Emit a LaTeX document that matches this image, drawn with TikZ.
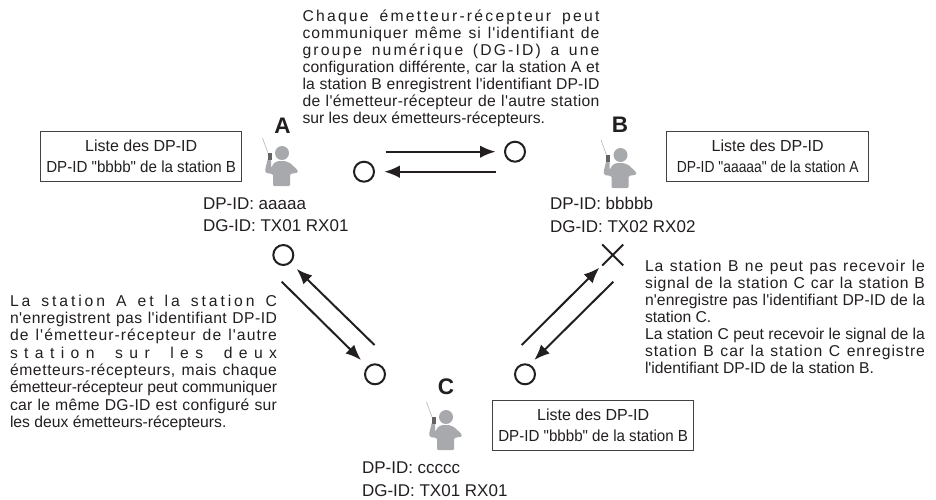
\documentclass[tikz,border=0pt]{standalone}
\usepackage{fontspec}
\usepackage{graphicx}
\setmainfont{Liberation Sans}[Ligatures=TeXOff]
\usetikzlibrary{arrows.meta,shapes.misc}
\newlength\jlnatural
\ExplSyntaxOn
\cs_new:Npn \charcount #1 {\str_count:n{#1}}
\ExplSyntaxOff
% one justified line: width in pt, text; the slack goes into letter spacing
\newcommand{\jl}[2]{%
  \settowidth\jlnatural{#2}%
  \edef\jlcount{\charcount{#2}}%
  \pgfmathsetmacro\jlspace{(#1-\jlnatural)/\jlcount/15.7*100*0.97}%
  \makebox[#1pt][s]{\addfontfeature{LetterSpace=\jlspace}#2}\\}
\definecolor{ink}{HTML}{231F20}
\definecolor{persongray}{HTML}{A7A9AC}
\tikzset{
  x=1pt,y=-1pt,
  every node/.style={text=ink,font=\fontsize{15.7}{17}\selectfont,inner sep=0pt,outer sep=0pt},
  para/.style={anchor=north west,align=left},
  okmark/.style={circle,draw=ink,line width=2pt,minimum size=20pt},
  nomark/.style={cross out,draw=ink,line width=2pt,minimum size=21pt},
  listbox/.style={draw=ink!85,line width=1pt,align=center,anchor=north west,font=\fontsize{16}{21}\selectfont},
  idlabel/.style={anchor=north west,align=left,font=\fontsize{17}{22.7}\selectfont},
  stationname/.style={font=\fontsize{22.5}{22.5}\selectfont\bfseries},
  link/.style={draw=ink,line width=2pt,-{Latex[length=15.5pt,width=12.5pt]}},
  person/.pic={
    \fill[persongray] (0,0) circle (7);
    \fill[persongray,rounded corners=1.2pt] (-9,33) -- (8,33) -- (8,21) -- (16,19.5) -- (15.5,17) -- (8,10) -- (3,8) -- (-4,8) -- (-8,10) -- (-11,15) -- (-11,5) -- (-14,5) -- (-17,17) -- (-16,20) -- (-9,21) -- cycle;
    \fill[ink!70] (-14.5,-0.5) rectangle (-10.5,6.5);
    \draw[persongray,line width=.5pt] (-19.5,-15) -- (-14,0);
  }
}
\begin{document}
\begin{tikzpicture}
\useasboundingbox (0,0) rectangle (936,499);
\fill[white] (0,0) rectangle (936,499);

\node[para] (toptext) at (302.5,10) {%
\jl{297}{Chaque émetteur-récepteur peut}%
\jl{297}{communiquer même si l'identifiant de}%
\jl{297}{groupe numérique (DG-ID) a une}%
\jl{297}{configuration différente, car la station A et}%
\jl{297}{la station B enregistrent l'identifiant DP-ID}%
\jl{297}{de l'émetteur-récepteur de l'autre station}%
sur les deux émetteurs-récepteurs.};

\node[para,font=\fontsize{15.7}{17.3}\selectfont] (lefttext) at (10,295) {%
\jl{267}{La station A et la station C}%
\jl{267}{n'enregistrent pas l'identifiant DP-ID}%
\jl{267}{de l'émetteur-récepteur de l'autre}%
\jl{267}{station sur les deux}%
\jl{267}{émetteurs-récepteurs, mais chaque}%
\jl{267}{émetteur-récepteur peut communiquer}%
\jl{267}{car le même DG-ID est configuré sur}%
les deux émetteurs-récepteurs.};

\node[para] (righttext) at (645,260) {%
\jl{280}{La station B ne peut pas recevoir le}%
\jl{280}{signal de la station C car la station B}%
\jl{280}{n'enregistre pas l'identifiant DP-ID de la}%
station C.\\
\jl{280}{La station C peut recevoir le signal de la}%
\jl{280}{station B car la station C enregistre}%
l'identifiant DP-ID de la station B.};

\node[stationname] (nameA) at (282.5,126) {A};
\node[stationname] (nameB) at (620,125) {B};
\node[stationname] (nameC) at (446,387) {C};
\pic at (282,153) {person};
\pic at (620.5,155) {person};
\pic at (446,417) {person};

\node[listbox,minimum width=201pt,minimum height=50pt] (listA) at (40.7,131.7) {Liste des DP-ID\\\scalebox{.945}[1]{DP-ID "bbbb" de la station B}};
\node[listbox,minimum width=202pt,minimum height=50pt] (listB) at (666.7,131.5) {Liste des DP-ID\\\scalebox{.867}[1]{DP-ID "aaaaa" de la station A}};
\node[listbox,minimum width=201pt,minimum height=50pt] (listC) at (492.7,400.7) {Liste des DP-ID\\\scalebox{.945}[1]{DP-ID "bbbb" de la station B}};

\node[idlabel] (idA) at (203,197.5) {DP-ID: aaaaa\\DG-ID: TX01 RX01};
\node[idlabel] (idB) at (550,197.5) {DP-ID: bbbbb\\DG-ID: TX02 RX02};
\node[idlabel] (idC) at (362,462) {DP-ID: ccccc\\DG-ID: TX01 RX01};

\node[okmark] (topR) at (515,151.7) {};
\node[okmark] (topL) at (364,171.7) {};
\node[okmark] (leftA) at (283.3,255) {};
\node[okmark] (leftC) at (375,374.3) {};
\node[nomark] (rightB) at (612.7,255) {};
\node[okmark] (rightC) at (525,374.3) {};

\coordinate (a1) at (385.7,151.7);
\coordinate (a2) at (495.5,151.7);
\coordinate (b1) at (495.7,171.7);
\coordinate (b2) at (384.3,171.7);
\coordinate (c1) at (521.7,345);
\coordinate (c2) at (599.3,267.7);
\coordinate (d1) at (613.3,281.7);
\coordinate (d2) at (534.3,360);
\coordinate (e1) at (374.5,345);
\coordinate (e2) at (296.7,269);
\coordinate (f1) at (281.7,281.7);
\coordinate (f2) at (361,360);
\draw[link] (a1) -- (a2);
\draw[link] (b1) -- (b2);
\draw[link] (c1) -- (c2);
\draw[link] (d1) -- (d2);
\draw[link] (e1) -- (e2);
\draw[link] (f1) -- (f2);
\end{tikzpicture}
\end{document}
